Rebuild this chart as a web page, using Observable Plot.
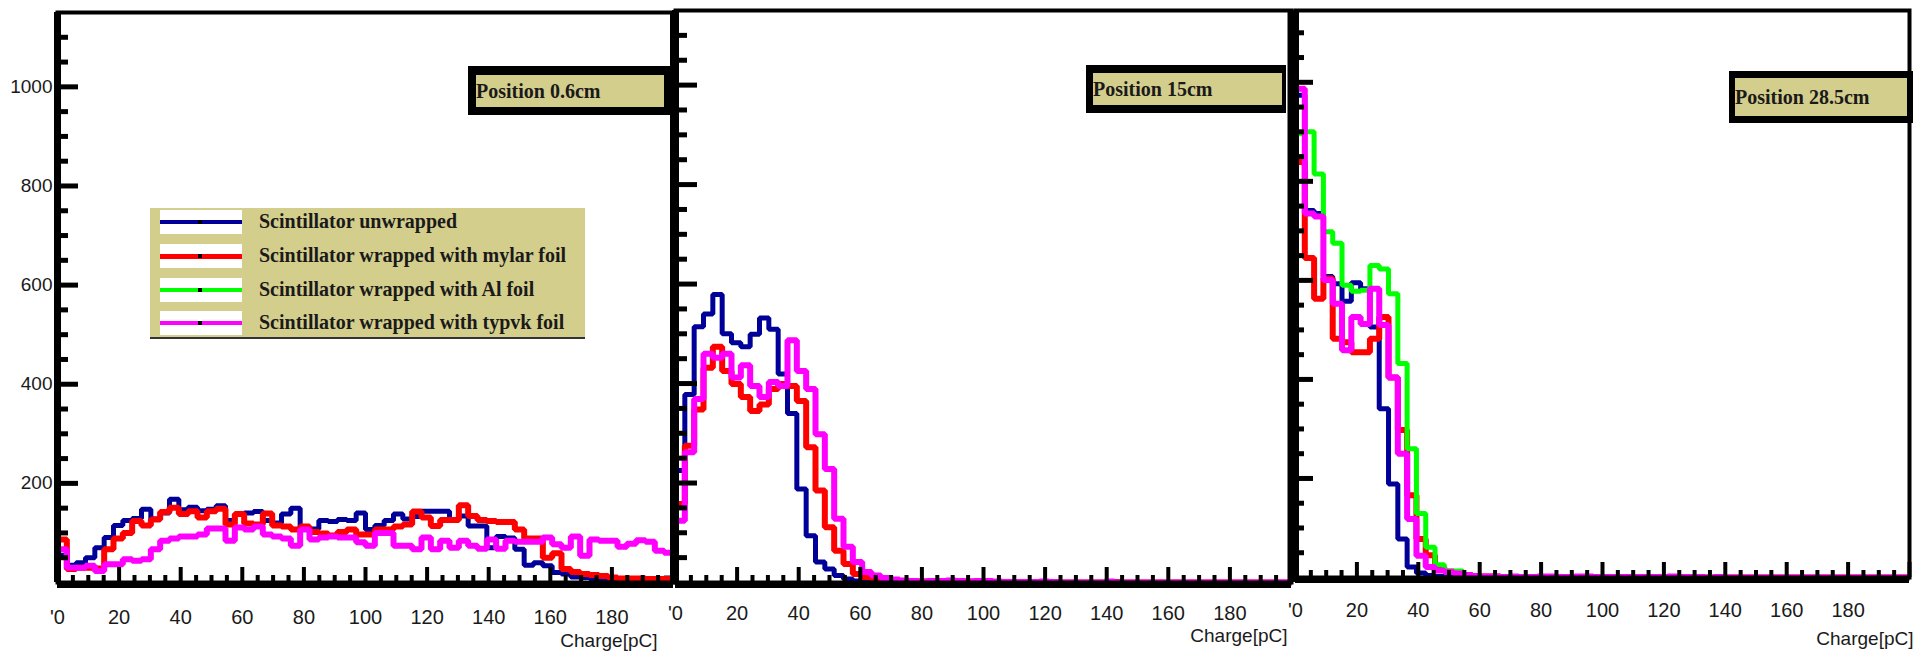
<!DOCTYPE html>
<html>
<head>
<meta charset="utf-8">
<script src="https://cdn.jsdelivr.net/npm/d3@7"></script>
<script src="https://cdn.jsdelivr.net/npm/@observablehq/plot@0.6"></script>
<style>
  html, body { margin: 0; padding: 0; background: #fff; }
  #wrap { position: relative; width: 1929px; height: 651px; overflow: hidden; background: #fff; }
  .posbox { position: absolute; box-sizing: border-box; background: #d4ce8c; border-style: solid; border-color: #000;
            font: bold 20px "Liberation Serif", "Times New Roman", serif; color: #1a1a1a; white-space: nowrap;
            display: flex; align-items: center; overflow: hidden; }
  #legend { position: absolute; left: 150px; top: 208px; width: 435px; height: 131px; background: #d4ce8c;
            border-bottom: 2px solid #333; box-sizing: border-box; }
  .lrow { position: absolute; left: 10px; width: 82px; height: 24px; background: #fff; }
  .lline { position: absolute; left: 0; width: 82px; }
  .ldot { position: absolute; left: 38px; width: 4px; height: 4px; background: #000; }
  .ltext { position: absolute; left: 109px; font: bold 20px "Liberation Serif", "Times New Roman", serif; color: #1a1a1a; white-space: nowrap; line-height: 24px; }
</style>
</head>
<body>
<div id="wrap"></div>
<script>
// ---------------- data ----------------
const seriesNames = ["Scintillator unwrapped", "Scintillator wrapped with mylar foil", "Scintillator wrapped with Al foil", "Scintillator wrapped with typvk foil"];
const seriesColors = ["#000099", "#ff0000", "#00ff00", "#ff00ff"];
const seriesWidths = [5, 6, 5, 6];
const legendWidths = [4, 5, 4, 4];
const panelTitles = ["Position 0.6cm", "Position 15cm", "Position 28.5cm"];
const xAxisTitle = "Charge[pC]";

const xTickValues = [0, 20, 40, 60, 80, 100, 120, 140, 160, 180, 200];
const xLabelValues = [0, 20, 40, 60, 80, 100, 120, 140, 160, 180];
const xLabelText = ["'0", "20", "40", "60", "80", "100", "120", "140", "160", "180"];
const xMinorTicks = [5, 10, 15, 25, 30, 35, 45, 50, 55, 65, 70, 75, 85, 90, 95, 105, 110, 115, 125, 130, 135, 145, 150, 155, 165, 170, 175, 185, 190, 195];
const yTickValues = [200, 400, 600, 800, 1000];
const yTickText = ["200", "400", "600", "800", "1000"];
const yMinorTicks = [50, 100, 150, 250, 300, 350, 450, 500, 550, 650, 700, 750, 850, 900, 950, 1050, 1100];

const nBins = 66;           // histogram bins over 0..200 pC

// Position 0.6cm
const p1Unwrapped = [55, 35, 40, 50, 70, 91, 115, 125, 129, 148, 128,
  140, 168, 147, 152, 145, 148, 155, 125, 137, 140, 143,
  125, 120, 138, 150, 112, 108, 125, 123, 127, 125, 140,
  107, 115, 125, 138, 128, 133, 144, 144, 144, 126, 134,
  114, 114, 70, 93, 90, 67, 35, 40, 34, 20, 17,
  11, 10, 8, 7, 6, 5, 5, 5, 4, 5, 9];
const p1Mylar = [87, 27, 30, 30, 28, 67, 89, 100, 124, 115, 127,
  142, 151, 138, 144, 131, 144, 149, 117, 138, 119, 117,
  139, 115, 113, 107, 113, 102, 99, 95, 102, 107, 97,
  97, 107, 107, 113, 117, 143, 131, 114, 126, 126, 156,
  134, 126, 124, 122, 122, 107, 89, 89, 50, 59, 27,
  21, 17, 15, 13, 10, 8, 8, 8, 7, 7, 7];
const p1Tyvek = [67, 30, 30, 34, 23, 37, 37, 47, 44, 47, 67,
  84, 89, 93, 93, 97, 109, 109, 84, 111, 107, 113,
  97, 93, 89, 74, 107, 87, 91, 93, 91, 91, 81,
  74, 100, 100, 74, 74, 67, 91, 67, 84, 70, 84,
  74, 68, 87, 68, 84, 82, 82, 82, 91, 77, 70,
  93, 54, 87, 84, 84, 72, 78, 85, 82, 64, 60];

// Position 15cm
const p2Unwrapped = [225, 378, 514, 540, 579, 500, 482, 474, 499, 532, 509,
  419, 340, 188, 94, 41, 27, 14, 7, 3, 2, 1,
  1, 1, 0, 1, 0, 0, 0, 1, 0, 0, 0,
  0, 0, 0, 0, 0, 1, 0, 0, 0, 0, 0,
  0, 0, 0, 0, 0, 0, 0, 0, 0, 0, 0,
  0, 0, 0, 0, 0, 0, 0, 0, 0, 0, 0];
const p2Mylar = [158, 275, 348, 432, 474, 425, 399, 373, 345, 358, 389,
  399, 395, 365, 272, 185, 111, 64, 37, 17, 11, 7,
  4, 3, 2, 3, 2, 2, 1, 2, 3, 2, 2,
  2, 1, 1, 0, 1, 1, 0, 0, 0, 0, 0,
  0, 0, 0, 1, 0, 0, 0, 0, 0, 0, 0,
  0, 0, 0, 0, 0, 0, 0, 0, 0, 0, 0];
const p2Tyvek = [124, 262, 369, 460, 452, 460, 412, 437, 395, 373, 403,
  395, 487, 425, 389, 298, 228, 128, 72, 41, 21, 14,
  9, 6, 4, 3, 2, 3, 3, 4, 3, 2, 3,
  3, 2, 1, 1, 1, 1, 2, 1, 0, 0, 0,
  0, 0, 2, 0, 0, 0, 0, 0, 0, 0, 0,
  0, 0, 0, 0, 0, 0, 0, 0, 0, 0, 0];

// Position 28.5cm
const p3Unwrapped = [974, 741, 735, 608, 593, 558, 595, 583, 506, 341, 189,
  78, 21, 9, 4, 2, 1, 1, 0, 0, 0, 0,
  0, 0, 0, 0, 0, 0, 0, 0, 0, 0, 0,
  0, 0, 0, 0, 0, 0, 0, 0, 0, 0, 0,
  0, 0, 0, 0, 0, 0, 0, 0, 0, 0, 0,
  0, 0, 0, 0, 0, 0, 0, 0, 0, 0, 0];
const p3Mylar = [839, 645, 563, 604, 482, 475, 455, 455, 482, 526, 404,
  298, 166, 78, 45, 20, 12, 8, 5, 3, 2, 2,
  1, 1, 1, 1, 0, 1, 0, 0, 0, 1, 0,
  0, 0, 0, 0, 0, 0, 0, 0, 0, 0, 0,
  0, 0, 0, 0, 0, 0, 0, 0, 0, 0, 0,
  0, 0, 0, 0, 0, 0, 0, 0, 0, 0, 0];
const p3Al = [896, 900, 815, 698, 675, 590, 578, 580, 630, 623, 573,
  432, 260, 129, 61, 26, 13, 13, 6, 3, 2, 1,
  1, 1, 0, 0, 0, 0, 0, 0, 0, 0, 0,
  0, 0, 0, 0, 0, 0, 0, 0, 0, 0, 0,
  0, 0, 0, 0, 0, 0, 0, 0, 0, 0, 0,
  0, 0, 0, 0, 0, 0, 0, 0, 0, 0, 0];
const p3Tyvek = [987, 735, 729, 601, 553, 459, 526, 512, 583, 510, 404,
  250, 118, 44, 21, 14, 11, 8, 5, 3, 2, 2,
  1, 2, 1, 1, 2, 2, 1, 1, 2, 2, 1,
  1, 1, 1, 1, 1, 1, 1, 2, 1, 1, 1,
  0, 1, 0, 0, 0, 0, 0, 0, 0, 0, 0,
  0, 0, 0, 0, 0, 0, 0, 0, 0, 0, 0];

// ---------------- drawing ----------------
const binWidth = 200 / nBins;
const binEdges = d3.range(nBins + 1).map(i => i * binWidth);

function histPoints(values) {
  const pts = values.map((v, i) => ({x: binEdges[i], y: v}));
  pts.push({x: binEdges[values.length], y: values[values.length - 1]});
  return pts;
}

const panels = [
  {left: 0, width: 680, ml: 57, mr: 7, mt: 12, mb: 69, ymax: 1150,
   series: [[p1Unwrapped, 0], [p1Mylar, 1], [p1Tyvek, 3]], labelPad: 27,
   yLabels: true, yMaj: 21, yMin: 11, right: 7, cdx: -16, cdy: 58},
  {left: 660, width: 660, ml: 15, mr: 29, mt: 10, mb: 69, ymax: 1150,
   series: [[p2Unwrapped, 0], [p2Mylar, 1], [p2Tyvek, 3]], labelPad: 23,
   yLabels: false, yMaj: 22, yMin: 12, right: 8, cdx: -4, cdy: 53},
  {left: 1280, width: 649, ml: 15, mr: 20, mt: 10, mb: 74, ymax: 1145,
   series: [[p3Unwrapped, 0], [p3Mylar, 1], [p3Al, 2], [p3Tyvek, 3]], labelPad: 25,
   yLabels: false, yMaj: 18, yMin: 9, right: 3, cdx: 4, cdy: 61}
];

const wrap = document.getElementById("wrap");
const labelMap = new Map(xLabelValues.map((v, i) => [v, xLabelText[i]]));
const yLabelMap = new Map(yTickValues.map((v, i) => [v, yTickText[i]]));

panels.forEach((p) => {
  const marks = [];
  p.series.forEach(([vals, k]) => {
    marks.push(Plot.line(histPoints(vals), {x: "x", y: "y", curve: "step-after",
      stroke: seriesColors[k], strokeWidth: seriesWidths[k], strokeLinejoin: "miter", strokeLinecap: "butt"}));
  });
  marks.push(
    Plot.frame({stroke: "#000", strokeWidth: 4}),
    Plot.ruleX([0], {stroke: "#000", strokeWidth: 7}),
    Plot.ruleX([200], {stroke: "#000", strokeWidth: p.right}),
    Plot.ruleY([0], {stroke: "#000", strokeWidth: 6, dy: 2.5}),
    Plot.axisX({ticks: xMinorTicks, tickSize: -7, strokeWidth: 4, stroke: "#000", tickFormat: () => "", label: null}),
    Plot.axisX({ticks: xTickValues, tickSize: -15, strokeWidth: 4, stroke: "#000", tickFormat: () => "", label: null}),
    Plot.axisX({ticks: xLabelValues, tickSize: 0, tickPadding: p.labelPad, fontSize: 20,
      fill: "#1a1a1a", tickFormat: d => labelMap.get(d), label: null}),
    Plot.axisY({ticks: yMinorTicks, tickSize: -p.yMin, strokeWidth: 5, stroke: "#000", tickFormat: () => "", label: null}),
    Plot.axisY({ticks: yTickValues, tickSize: -p.yMaj, strokeWidth: 5, stroke: "#000", tickFormat: () => "", label: null}),
    Plot.text([xAxisTitle], {frameAnchor: "bottom-right", textAnchor: "end", lineAnchor: "middle",
      dx: p.cdx, dy: p.cdy, fontSize: 19, fill: "#1a1a1a"})
  );
  if (p.yLabels) {
    marks.push(Plot.axisY({ticks: yTickValues, tickSize: 0, tickPadding: 5, fontSize: 19, fill: "#1a1a1a",
      tickFormat: d => yLabelMap.get(d), label: null}));
  }
  const svg = Plot.plot({
    width: p.width, height: 651,
    marginLeft: p.ml, marginRight: p.mr, marginTop: p.mt, marginBottom: p.mb,
    x: {domain: [0, 200], label: null},
    y: {domain: [0, p.ymax], label: null},
    style: {background: "transparent", fontFamily: "'Liberation Sans', Arial, sans-serif", overflow: "visible"},
    marks
  });
  svg.style.position = "absolute";
  svg.style.left = p.left + "px";
  svg.style.top = "0px";
  wrap.appendChild(svg);
});

// Position boxes
const boxes = [
  {left: 468, top: 66, w: 202, h: 49, bw: "9px 6px 8px 8px"},
  {left: 1086, top: 65, w: 200, h: 48, bw: "8px 4px 8px 7px"},
  {left: 1729, top: 71, w: 184, h: 52, bw: "7px 6px 7px 6px"}
];
boxes.forEach((b, i) => {
  const d = document.createElement("div");
  d.className = "posbox";
  Object.assign(d.style, {left: b.left + "px", top: b.top + "px", width: b.w + "px", height: b.h + "px", borderWidth: b.bw});
  d.textContent = panelTitles[i];
  wrap.appendChild(d);
});

// Legend
const legend = d3.select(wrap).append("div").attr("id", "legend");
const rowCenters = [14, 48, 82, 115];
seriesNames.forEach((name, i) => {
  const cy = rowCenters[i];
  const row = legend.append("div").attr("class", "lrow").style("top", (cy - 12) + "px");
  row.append("div").attr("class", "lline")
    .style("top", (12 - legendWidths[i] / 2) + "px").style("height", legendWidths[i] + "px")
    .style("background", seriesColors[i]);
  row.append("div").attr("class", "ldot").style("top", "10px");
  legend.append("div").attr("class", "ltext").style("top", (cy - 13) + "px").text(name);
});
</script>
</body>
</html>
